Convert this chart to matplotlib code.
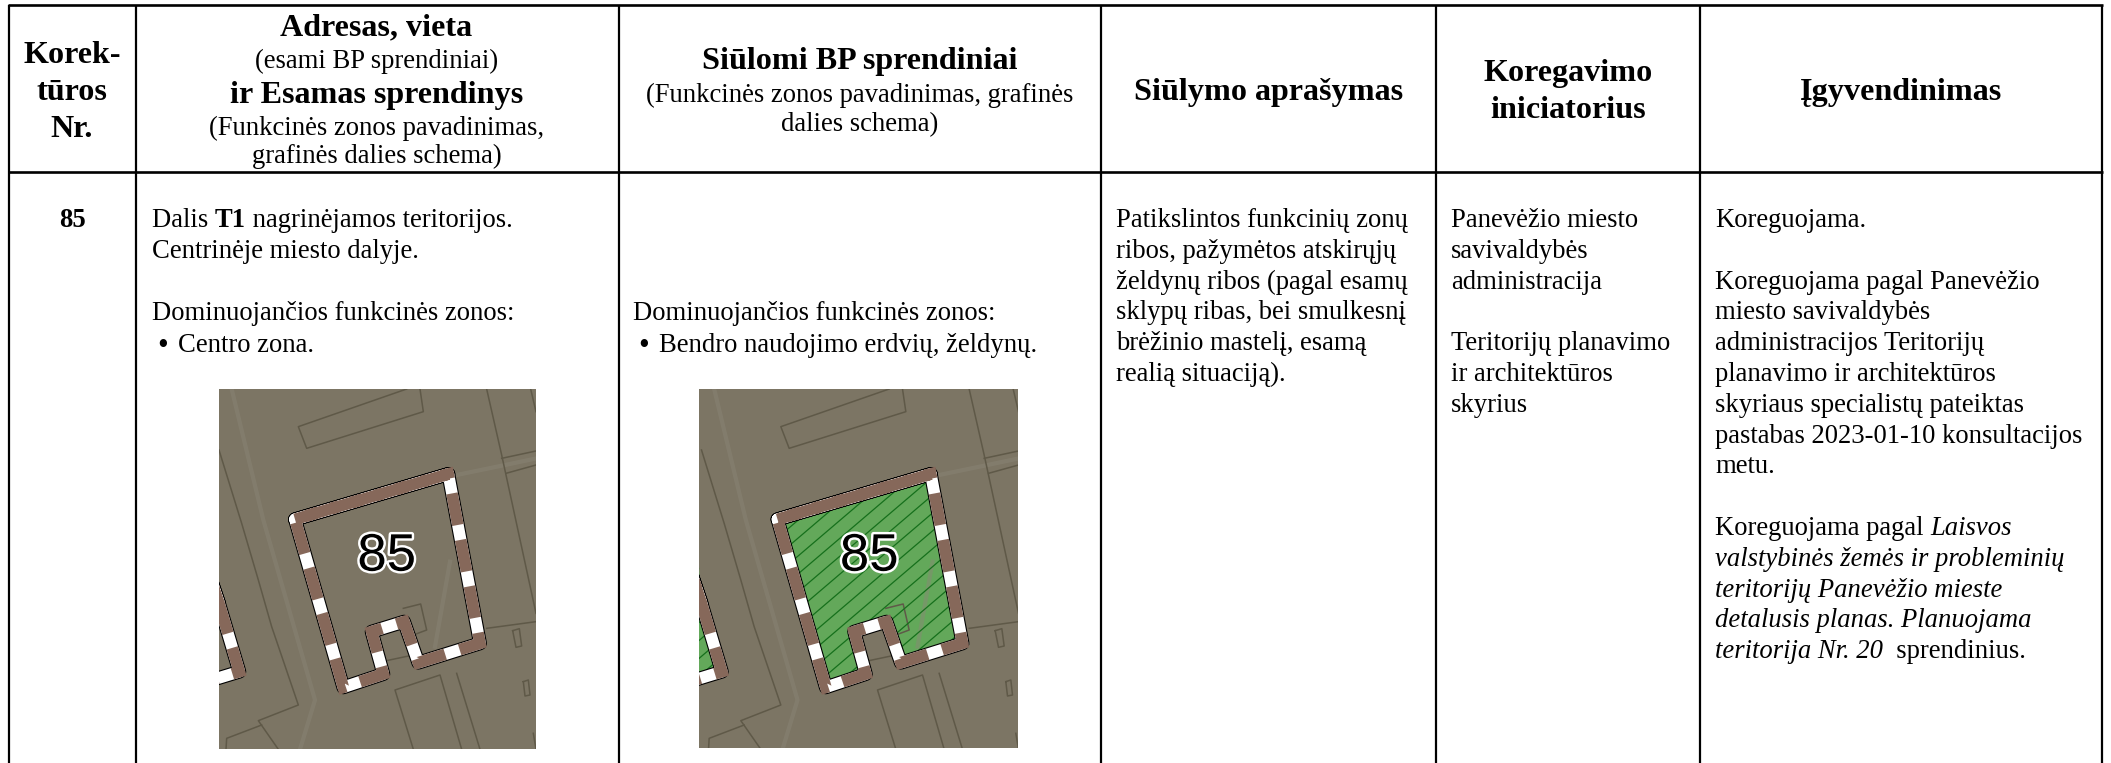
"""
Korektūros lentelė: antraštė, tekstai ir dvi schemos.
"""

import matplotlib
matplotlib.use("Agg")
import matplotlib.pyplot as plt
import matplotlib.patheffects as pe
from matplotlib.patches import Polygon, Rectangle

plt.rcParams["font.family"] = ["Liberation Serif", "DejaVu Sans"]

W, H = 2111, 763
BODY_SIZE = 19.15
HEAD_SIZE = 23.1
SUB_SIZE = 19.15
LINE_STEP = 30.8

# ── Table grid ─────────────────────────────────────────────────
COL_X = [8.5, 136, 618.5, 1101, 1436, 1700, 2102]
TOP_Y = 5
HEADER_Y = 172

# ── Header: (text, centre x, baseline y, bold?) ────────────────
HEADER_CELLS = [
    ("Korek-", 72, 63, True),
    ("tūros", 72, 100, True),
    ("Nr.", 72, 137, True),
    ("Adresas, vieta", 376.5, 35, True),
    ("(esami BP sprendiniai)", 376.5, 68, False),
    ("ir Esamas sprendinys", 376.5, 103, True),
    ("(Funkcinės zonos pavadinimas,", 376.5, 135, False),
    ("grafinės dalies schema)", 376.5, 163, False),
    ("Siūlomi BP sprendiniai", 860, 69, True),
    ("(Funkcinės zonos pavadinimas, grafinės", 860, 102, False),
    ("dalies schema)", 860, 131, False),
    ("Siūlymo aprašymas", 1268.5, 100, True),
    ("Koregavimo", 1568, 81, True),
    ("iniciatorius", 1568, 118, True),
    ("Įgyvendinimas", 1901, 100, True),
]

ROW_NUMBER = "85"

# Body text, one list per cell: line number -> runs of (text, style)
COL2_LINES = {
    0: [("Dalis ", "n"), ("T1", "b"), (" nagrinėjamos teritorijos.", "n")],
    1: [("Centrinėje miesto dalyje.", "n")],
    3: [("Dominuojančios funkcinės zonos:", "n")],
}
COL2_BULLET = "Centro zona."

COL3_LINES = {
    3: [("Dominuojančios funkcinės zonos:", "n")],
}
COL3_BULLET = "Bendro naudojimo erdvių, želdynų."

COL4_LINES = [
    "Patikslintos funkcinių zonų",
    "ribos, pažymėtos atskirųjų",
    "želdynų ribos (pagal esamų",
    "sklypų ribas, bei smulkesnį",
    "brėžinio mastelį, esamą",
    "realią situaciją).",
]

COL5_LINES = [
    "Panevėžio miesto",
    "savivaldybės",
    "administracija",
    "",
    "Teritorijų planavimo",
    "ir architektūros",
    "skyrius",
]

COL6_LINES = [
    [("Koreguojama.", "n")],
    [],
    [("Koreguojama pagal Panevėžio", "n")],
    [("miesto savivaldybės", "n")],
    [("administracijos Teritorijų", "n")],
    [("planavimo ir architektūros", "n")],
    [("skyriaus specialistų pateiktas", "n")],
    [("pastabas 2023-01-10 konsultacijos", "n")],
    [("metu.", "n")],
    [],
    [("Koreguojama pagal ", "n"), ("Laisvos", "i")],
    [("valstybinės žemės ir probleminių", "i")],
    [("teritorijų Panevėžio mieste", "i")],
    [("detalusis planas. Planuojama", "i")],
    [("teritorija Nr. 20", "i"), ("  sprendinius.", "n")],
]

# ── Map schemes, coordinates in 3x crop units ──────────────────
MAP_BOXES = [(219, 389, 317, 360, 0), (699, 389, 319, 359, 2.5)]
MAP_BG = "#7c7564"
MAP_LINE = "#5f5948"
MAP_LIGHT = "#8b8677"
GREEN = "#63a85a"
HATCH = "#16701c"
BROWN = "#86685a"

PLOT_SHAPE = [(285, 418), (745, 282), (840, 790), (655, 848), (612, 725),
              (515, 755), (550, 882), (430, 922)]
NEIGHBOUR_SHAPE = [(20, 560), (57, 670), (118, 875), (20, 905)]

MAP_LIGHT_STRIPES = [
    [(95, 27), (190, 420), (345, 960), (300, 1108)],
    [(770, 285), (915, 255), (1010, 235)],
    [(750, 545), (705, 800)],
]
MAP_THIN_LINES = [
    [(620, 27), (295, 140), (320, 205), (670, 95), (660, 27)],
    [(57, 210), (125, 430), (175, 600), (215, 740), (295, 975), (175, 1022),
     (235, 1108)],
    [(78, 1108), (80, 1075), (185, 1035)],
    [(860, 27), (905, 225), (1008, 700)],
    [(905, 235), (1008, 213)],
    [(918, 280), (1008, 255)],
    [(992, 27), (1008, 95)],
    [(640, 1108), (585, 930), (720, 885), (785, 1108)],
    [(770, 880), (840, 1108)],
    [(610, 685), (662, 672), (680, 750), (640, 765)],
    [(545, 845), (640, 825)],
    [(860, 745), (1008, 725)],
    [(938, 752), (958, 746), (965, 798), (948, 802), (938, 752)],
    [(970, 905), (985, 900), (990, 945), (975, 948), (970, 905)],
    [(1000, 1060), (1008, 1108)],
]
LABEL_POS = (560, 530)


def add_line(ax, x, y, runs):
    """Draw runs of mixed style one after another from x."""
    styles = {"n": {}, "b": {"fontweight": "bold"}, "i": {"fontstyle": "italic"}}
    renderer = ax.figure.canvas.get_renderer()
    for text, style in runs:
        kw = styles[style]
        ax.text(x, y, text, fontsize=BODY_SIZE, va="baseline", ha="left", **kw)
        # measure between two marks so the spaces count too
        a = ax.text(0, 0, "x" + text + "x", fontsize=BODY_SIZE, **kw)
        b = ax.text(0, 0, "xx", fontsize=BODY_SIZE, **kw)
        x += a.get_window_extent(renderer).width - b.get_window_extent(renderer).width
        a.remove()
        b.remove()


def add_bullet(ax, x, y, text):
    ax.text(x + 11, y + 2, "•", fontsize=22, ha="center", va="baseline")
    ax.text(x + 26, y, text, fontsize=BODY_SIZE, va="baseline")


def draw_grid(ax):
    for x in COL_X:
        ax.plot([x, x], [TOP_Y, H], color="black", lw=1.6, solid_capstyle="butt")
    for y in (TOP_Y, HEADER_Y):
        ax.plot([COL_X[0] - 1, COL_X[-1] + 1], [y, y], color="black", lw=1.9,
                solid_capstyle="butt")


def draw_border(ax, points, clip):
    """Black edged band with white and brown dashes."""
    pts = points + points[:2]
    xs = [p[0] for p in pts]
    ys = [p[1] for p in pts]
    black = ax.plot(xs, ys, color="black", lw=10.0, solid_joinstyle="round",
                    solid_capstyle="round")[0]
    white = ax.plot(xs, ys, color="white", lw=8.4, solid_joinstyle="round",
                    solid_capstyle="round")[0]
    brown = ax.plot(xs, ys, color=BROWN, lw=8.4, dash_capstyle="butt",
                    dash_joinstyle="miter", linestyle=(0.8, (2.75, 1.3)))[0]
    for line in (black, white, brown):
        line.set_clip_path(clip)


def draw_map(ax, box, green):
    x0, y0, w, h, dx = box

    def to_px(points):
        return [(x0 + dx + (zx - 57) / 3, y0 + (zy - 27) / 3) for zx, zy in points]

    bg = Rectangle((x0, y0), w, h, facecolor=MAP_BG, edgecolor="none")
    ax.add_patch(bg)

    for stripe in MAP_LIGHT_STRIPES:
        p = to_px(stripe)
        line = ax.plot([q[0] for q in p], [q[1] for q in p], color=MAP_LIGHT,
                       lw=3.0, alpha=0.45)[0]
        line.set_clip_path(bg)
    for thin in MAP_THIN_LINES:
        p = to_px(thin)
        line = ax.plot([q[0] for q in p], [q[1] for q in p], color=MAP_LINE, lw=1.1)[0]
        line.set_clip_path(bg)

    plot = to_px(PLOT_SHAPE)
    neighbour = to_px(NEIGHBOUR_SHAPE)
    if green:
        # keep the neighbour fill inside the map box
        inside = [(max(x, x0), y) for x, y in neighbour]
        for shape in (plot, inside):
            patch = Polygon(shape, closed=True, facecolor=GREEN, edgecolor="none")
            ax.add_patch(patch)
            # diagonal hatch, clipped to the plot
            for k in range(-20, 60):
                c = x0 + k * 21
                line = ax.plot([c, c + 340], [y0 + h, y0 + h - 290], color=HATCH, lw=0.9)[0]
                line.set_clip_path(patch)

    draw_border(ax, plot, bg)
    draw_border(ax, neighbour, bg)

    lx, ly = to_px([LABEL_POS])[0]
    ax.text(lx, ly, ROW_NUMBER, fontsize=38, family="Liberation Sans", color="black",
            ha="center", va="center",
            path_effects=[pe.withStroke(linewidth=3.5, foreground="white")])


def main():
    fig = plt.figure(figsize=(W / 100, H / 100), dpi=100, facecolor="white")
    ax = fig.add_axes([0, 0, 1, 1])
    ax.set_xlim(0, W)
    ax.set_ylim(H, 0)
    ax.axis("off")
    fig.canvas.draw()

    draw_grid(ax)

    for text, x, y, bold in HEADER_CELLS:
        ax.text(x, y, text, ha="center", va="baseline",
                fontsize=HEAD_SIZE if bold else SUB_SIZE,
                fontweight="bold" if bold else "normal")

    ax.text(72, 227, ROW_NUMBER, ha="center", va="baseline",
            fontsize=BODY_SIZE, fontweight="bold")

    base = 227
    for n, runs in COL2_LINES.items():
        add_line(ax, 152, base + 31 * n, runs)
    add_bullet(ax, 152, base + 125, COL2_BULLET)

    for n, runs in COL3_LINES.items():
        add_line(ax, 633, base + 31 * n, runs)
    add_bullet(ax, 633, base + 125, COL3_BULLET)

    for n, text in enumerate(COL4_LINES):
        ax.text(1116, base + LINE_STEP * n, text, fontsize=BODY_SIZE, va="baseline")
    for n, text in enumerate(COL5_LINES):
        ax.text(1451, base + LINE_STEP * n, text, fontsize=BODY_SIZE, va="baseline")
    for n, runs in enumerate(COL6_LINES):
        add_line(ax, 1715, base + LINE_STEP * n, runs)

    draw_map(ax, MAP_BOXES[0], green=False)
    draw_map(ax, MAP_BOXES[1], green=True)

    fig.savefig("out.png", dpi=100)
    plt.close(fig)


if __name__ == "__main__":
    main()
